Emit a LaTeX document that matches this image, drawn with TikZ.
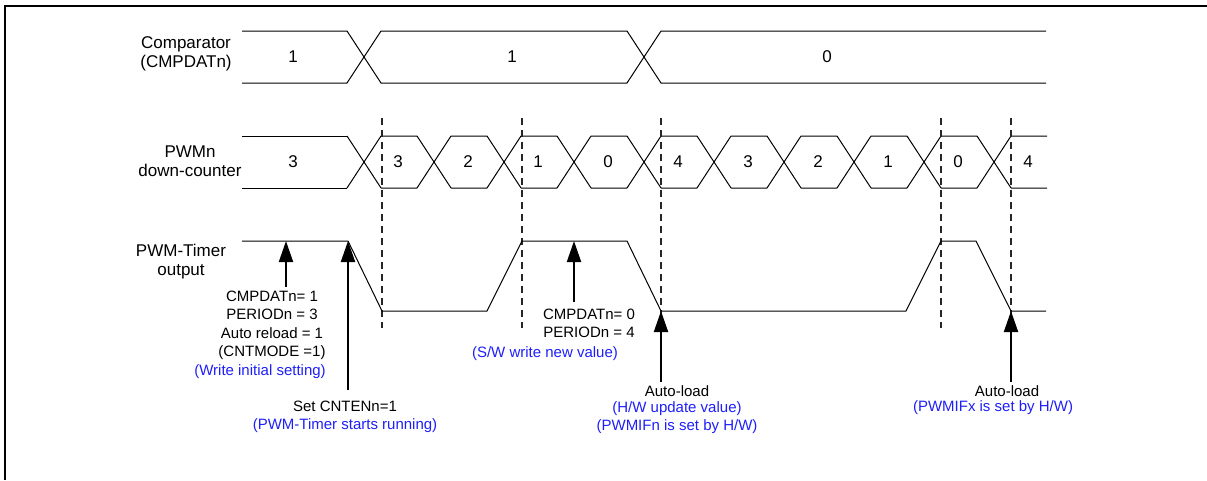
\documentclass[tikz,border=0pt]{standalone}
\usepackage{fontspec}
\setmainfont{Liberation Sans}
\usetikzlibrary{arrows.meta, positioning, calc}
\definecolor{noteblue}{RGB}{30,30,250}

\begin{document}
\begin{tikzpicture}[
        x=1pt, y=-1pt,
        signame/.style={align=center, inner sep=0pt, font=\fontsize{17}{19}\selectfont},
        val/.style={inner sep=0pt, font=\fontsize{17}{19}\selectfont},
        note/.style={align=center, inner sep=0pt, font=\fontsize{15}{18.5}\selectfont},
        bluenote/.style={note, text=noteblue},
        wave/.style={draw=black, line width=1pt},
        guide/.style={draw=black!85, line width=1.2pt, dash pattern=on 7pt off 5pt},
        pointer/.style={-{Triangle[width=14pt,length=21pt]}, line width=2pt, draw=black, shorten <=4pt}
    ]
    \useasboundingbox (0,0) rectangle (1207,480);
    \draw[line width=2pt] (4.5,480) -- (4.5,5.5) -- (1207,5.5);

    % signal names
    \node[signame] (cmp) at (186,54.3) {Comparator\\(CMPDATn)};
    \node[signame] (cnt) at (190,161) {PWMn\\down-counter};
    \node[signame] (out) at (181,261.3) {PWM-Timer\\output};

    % comparator bus
    \draw[wave] (242,31) -- (347,31) -- (381,83) -- (627,83) -- (661,31) -- (1046,31);
    \draw[wave] (242,83) -- (347,83) -- (381,31) -- (627,31) -- (661,83) -- (1046,83);
    \node[val] (cmpA) at (293,57) {1};
    \node[val] (cmpB) at (512,57) {1};
    \node[val] (cmpC) at (827,57) {0};

    % down-counter bus
    \draw[wave] (242,136) -- (347,136) (242,188) -- (347,188);
    \foreach \c in {364,434,...,994}
        \draw[wave] (\c-17,136) -- (\c+17,188) (\c-17,188) -- (\c+17,136)
            (\c+17,136) -- (\c+53,136) (\c+17,188) -- (\c+53,188);
    \node[val] (cnt0) at (293,162) {3};
    \foreach \v [count=\i] in {3,2,1,0,4,3,2,1,0,4}
        \node[val] (cnt\i) at (364+70*\i-36,162) {\v};

    % period marks
    \foreach \g in {382,522,661,941,1011}
        \draw[guide] (\g,118) -- (\g,328);

    % timer output
    \draw[wave] (242,241) -- (348,241) -- (382,311) -- (487,311) -- (522,241) -- (627,241)
        -- (661,311) -- (906,311) -- (941,241) -- (976,241) -- (1011,311) -- (1046,311);

    \coordinate (tipA) at (286,241);
    \coordinate (tipB) at (348,241);
    \coordinate (tipC) at (574,241);
    \coordinate (tipD) at (661,311);
    \coordinate (tipE) at (1011,311);

    % notes
    \node[note, anchor=north] (ini) at (272,290.7) {CMPDATn= 1\\PERIODn = 3\\Auto reload = 1\\(CNTMODE =1)};
    \node[bluenote, below=4.3pt of ini, xshift=-12pt] (iniN) {(Write initial setting)};
    \node[note, anchor=north] (cnten) at (345,400.7) {Set CNTENn=1\\\textcolor{noteblue}{(PWM-Timer starts running)}};
    \node[note, anchor=north] (upd) at (589,308.7) {CMPDATn= 0\\PERIODn = 4};
    \node[bluenote, below=8.5pt of upd, xshift=-44pt] (updN) {(S/W write new value)};
    \node[note, anchor=north] (aldD) at (677,385.7) {Auto-load\\[-3pt]\textcolor{noteblue}{(H/W update value)}\\\textcolor{noteblue}{(PWMIFn is set by H/W)}};
    \node[note, anchor=north] (aldE) at (1007,385.7) {Auto-load};
    \node[bluenote, below=3.5pt of aldE, xshift=-14pt] (aldN) {(PWMIFx is set by H/W)};

    \draw[pointer] (tipA |- ini.north) -- (tipA);
    \draw[pointer, shorten <=11pt] (tipB |- cnten.north) -- (tipB);
    \draw[pointer, shorten <=7pt] (tipC |- upd.north) -- (tipC);
    \draw[pointer] (tipD |- aldD.north) -- (tipD);
    \draw[pointer] (tipE |- aldE.north) -- (tipE);
\end{tikzpicture}
\end{document}
